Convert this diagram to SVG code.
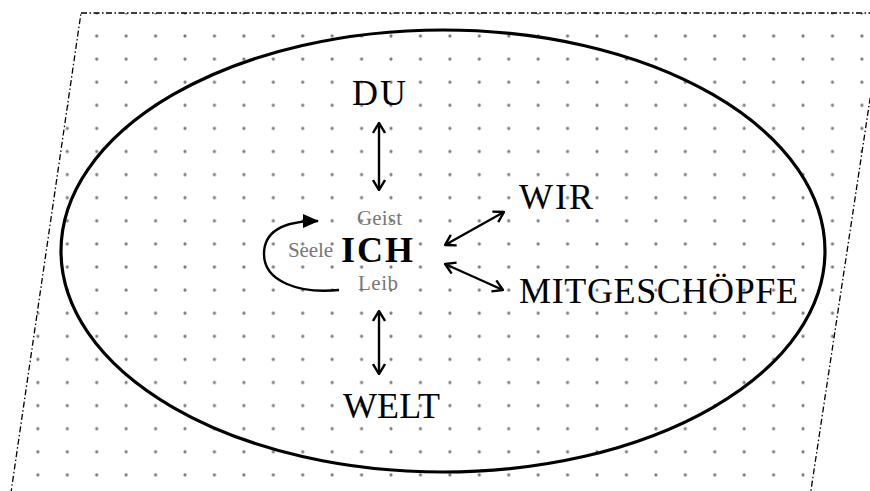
<svg xmlns="http://www.w3.org/2000/svg" width="870" height="491" viewBox="0 0 870 491">
<style>
.big{font-family:"Liberation Serif","Times New Roman",serif;font-size:36px;fill:#000}
.small{font-family:"Liberation Serif","Times New Roman",serif;font-size:21px;fill:#777}
.conn{stroke:#000;stroke-width:2.4;fill:none}
</style>
<defs>
<pattern id="dots" patternUnits="userSpaceOnUse" x="82" y="24.45" width="29.43" height="23.1">
<circle cx="14.715" cy="11.55" r="1.6" fill="#7a7a7a"/>
</pattern>
<marker id="open" viewBox="0 0 12 14" refX="11" refY="7" markerWidth="12" markerHeight="14" markerUnits="userSpaceOnUse" orient="auto-start-reverse">
<path d="M1,1 L11,7 L1,13" fill="none" stroke="#000" stroke-width="2.4"/>
</marker>
<marker id="solid" viewBox="0 0 16 14" refX="15" refY="7" markerWidth="16" markerHeight="14" markerUnits="userSpaceOnUse" orient="auto">
<path d="M0,0 L16,7 L0,14 Z" fill="#000"/>
</marker>
</defs>
<rect width="870" height="491" fill="#fff"/>
<g id="background">
<polygon points="81,13 883,13 809.5,500 9.9,500" fill="url(#dots)" stroke="#000" stroke-width="1.3" stroke-dasharray="6 2.5 1.5 2.5"/>
<ellipse cx="443" cy="251" rx="382" ry="221" fill="none" stroke="#000" stroke-width="3.2"/>
</g>
<g id="connectors">
<line class="conn" x1="379" y1="123" x2="379" y2="190" marker-start="url(#open)" marker-end="url(#open)"/>
<line class="conn" x1="379" y1="311" x2="379" y2="374" marker-start="url(#open)" marker-end="url(#open)"/>
<line class="conn" x1="445" y1="245" x2="504" y2="212" marker-start="url(#open)" marker-end="url(#open)"/>
<line class="conn" x1="445" y1="264" x2="503" y2="290" marker-start="url(#open)" marker-end="url(#open)"/>
<path class="conn" d="M339,290 C300,294 264,282 264,254 C264,228 290,221 318,221" stroke-width="2.8" marker-end="url(#solid)"/>
</g>
<g id="du"><text class="big" x="352" y="105" textLength="54">DU</text></g>
<g id="ich">
<text class="small" x="357" y="225" textLength="45">Geist</text>
<text class="small" x="288" y="257" textLength="45">Seele</text>
<text class="big" x="341" y="262" font-weight="bold" textLength="72">ICH</text>
<text class="small" x="358" y="290" textLength="40">Leib</text>
</g>
<g id="wir"><text class="big" x="519" y="209" textLength="74">WIR</text></g>
<g id="mitgeschoepfe"><text class="big" x="519" y="303" textLength="279">MITGESCHÖPFE</text></g>
<g id="welt"><text class="big" x="343" y="418" textLength="97">WELT</text></g>
</svg>
